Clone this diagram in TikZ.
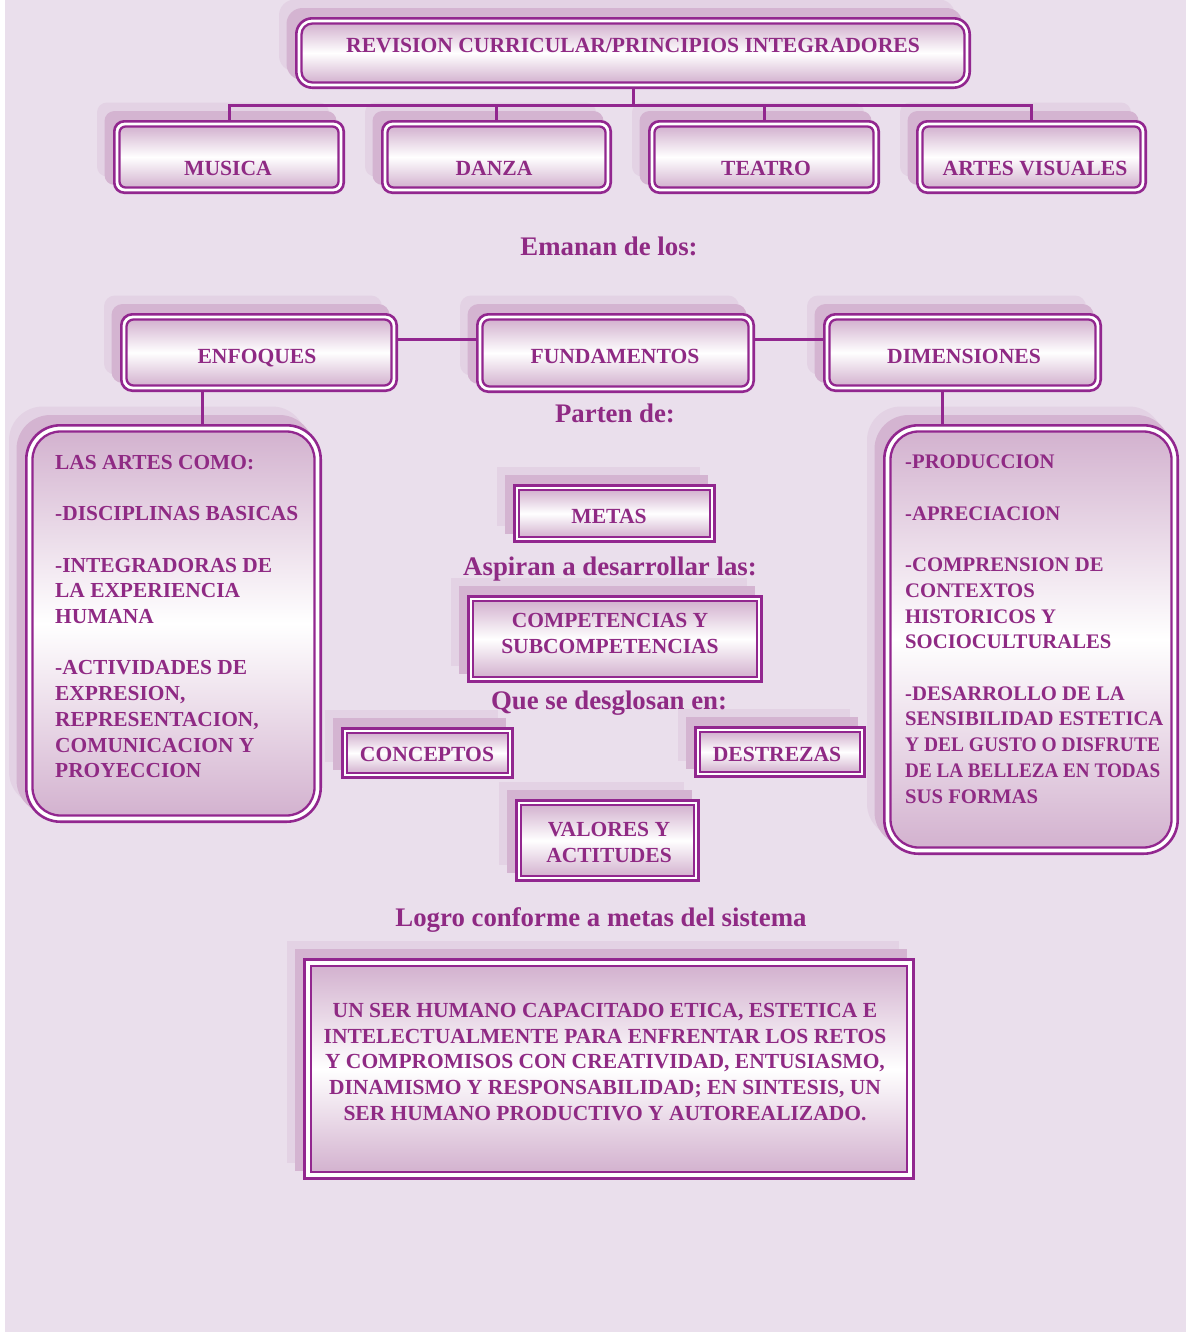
\documentclass[tikz,border=0pt]{standalone}
\usepackage{fontspec}
\usepackage{graphicx}
\setmainfont{Liberation Serif}
\definecolor{bg}{HTML}{EADFEC}
\definecolor{pur}{HTML}{92278F}
\definecolor{txt}{HTML}{8F2A84}
\definecolor{shdL}{HTML}{E3D2E4}
\definecolor{shdD}{HTML}{D4B4D1}
\definecolor{grad}{HTML}{D3B2CF}
\tikzset{
  shadowlight/.style={fill=shdL},
  shadowdark/.style={fill=shdD},
  outerframe/.style={fill=white, draw=pur, line width=2.6pt},
  innerframe/.style={draw=pur, line width=2.3pt, top color=grad, bottom color=grad, middle color=white},
  hit/.style={inner sep=0pt, outer sep=0pt, draw=none},
  conn/.style={draw=pur, line width=3pt},
  lbl/.style={text=txt, font=\fontsize{21.6}{25.7}\selectfont\bfseries, inner sep=0pt, anchor=base},
  mlbl/.style={text=txt, font=\fontsize{21.5}{25.7}\selectfont\bfseries, inner sep=0pt, anchor=north, align=center},
  phrase/.style={text=txt, font=\fontsize{26.8}{30}\selectfont\bfseries, inner sep=0pt, anchor=base},
  blk/.style={text=txt, font=\fontsize{21.4}{25.7}\selectfont\bfseries, inner sep=0pt, anchor=north west, align=left},
}
\newcommand\drawframe[8]{%
  \fill[shadowlight, #6] ({#2-16},{#3-17.5}) rectangle ({#4-16},{#5-17.5});
  \fill[shadowdark, #6] ({#2-8.5},{#3-9}) rectangle ({#4-8.5},{#5-9});
  \path[outerframe, #6] ({#2+1.3},{#3+1.3}) rectangle ({#4-1.3},{#5-1.3});
  \path[innerframe, #7] ({#2+#8},{#3+#8}) rectangle ({#4-#8},{#5-#8});
  \node[hit, minimum width={#4-#2}, minimum height={#5-#3}] (#1) at ({(#2+#4)/2},{(#3+#5)/2}) {};
}
\begin{document}
\begin{tikzpicture}[x=1pt,y=-1pt]
\useasboundingbox (0,0) rectangle (1186,1333);
\fill[white] (0,0) rectangle (1186,1333);
\fill[bg] (5,0) rectangle (1186,1332);

% boxes
\drawframe{title}{295}{17}{971}{89}{rounded corners=16pt}{rounded corners=11pt}{6.5}
\drawframe{musica}{113}{120}{345}{194}{rounded corners=10pt}{rounded corners=6pt}{6.5}
\drawframe{danza}{381}{120}{612}{194}{rounded corners=10pt}{rounded corners=6pt}{6.5}
\drawframe{teatro}{648}{120}{880}{194}{rounded corners=10pt}{rounded corners=6pt}{6.5}
\drawframe{artes}{916}{120}{1147}{194}{rounded corners=10pt}{rounded corners=6pt}{6.5}
\drawframe{enfoques}{120}{313}{398}{392}{rounded corners=11pt}{rounded corners=7pt}{6.5}
\drawframe{fund}{476}{313}{755}{393}{rounded corners=11pt}{rounded corners=7pt}{6.5}
\drawframe{dim}{823}{313}{1102}{392}{rounded corners=11pt}{rounded corners=7pt}{6.5}
\drawframe{lbox}{25}{424}{322}{823}{rounded corners=34pt}{rounded corners=28pt}{7.5}
\drawframe{rbox}{883}{424}{1179}{855}{rounded corners=34pt}{rounded corners=28pt}{7.5}
\drawframe{metas}{513}{484}{716}{543}{sharp corners}{sharp corners}{6}
\drawframe{comp}{467}{595}{763}{683}{sharp corners}{sharp corners}{6}
\drawframe{conceptos}{341}{727}{514}{779}{sharp corners}{sharp corners}{6}
\drawframe{destrezas}{694}{726}{866}{778}{sharp corners}{sharp corners}{6}
\drawframe{valores}{515}{799}{700}{882}{sharp corners}{sharp corners}{6}
\drawframe{logro}{303}{958}{915}{1180}{sharp corners}{sharp corners}{8}

% connectors
\coordinate (busy) at (0,105);
\draw[conn] (title.south) -- (title.south |- busy);
\draw[conn] (musica.north) -- (musica.north |- busy) -- (artes.north |- busy) -- (artes.north);
\draw[conn] (danza.north) -- (danza.north |- busy);
\draw[conn] (teatro.north) -- (teatro.north |- busy);
\coordinate (rowy) at (0,339);
\draw[conn] (enfoques.east |- rowy) -- (fund.west |- rowy);
\draw[conn] (fund.east |- rowy) -- (dim.west |- rowy);
\coordinate (lx) at (202,0);
\coordinate (rx) at (942,0);
\draw[conn] (enfoques.south -| lx) -- (lbox.north -| lx);
\draw[conn] (dim.south -| rx) -- (rbox.north -| rx);

% texts
\node[lbl] (t-title) at (633,52) {REVISION CURRICULAR/PRINCIPIOS INTEGRADORES};
\node[lbl] (t-musica) at (228,175) {MUSICA};
\node[lbl] (t-danza) at (494,175) {DANZA};
\node[lbl] (t-teatro) at (766,175) {TEATRO};
\node[lbl] (t-artes) at (1035,175) {ARTES VISUALES};
\node[phrase] (c-emanan) at (609,255) {Emanan de los:};
\node[lbl] (t-enf) at (257,363) {ENFOQUES};
\node[lbl] (t-fund) at (615,363) {FUNDAMENTOS};
\node[lbl] (t-dim) at (964,363) {DIMENSIONES};
\node[phrase] (c-parten) at (615,422) {Parten de:};
\node[lbl] (t-metas) at (609,523) {METAS};
\node[phrase] (c-aspiran) at (610,575) {Aspiran a desarrollar las:};
\node[mlbl] (t-comp) at (610,613.5) {COMPETENCIAS Y\\SUBCOMPETENCIAS};
\node[phrase] (c-que) at (609,709) {Que se desglosan en:};
\node[lbl] (t-conceptos) at (427,761) {CONCEPTOS};
\node[lbl] (t-destrezas) at (777,761) {DESTREZAS};
\node[mlbl] (t-valores) at (609,822.5) {VALORES Y\\ACTITUDES};
\node[phrase] (c-logro) at (601,926) {Logro conforme a metas del sistema};
\node[mlbl] (t-logro) at (605,1003) {UN SER HUMANO CAPACITADO ETICA, ESTETICA E\\INTELECTUALMENTE PARA ENFRENTAR LOS RETOS\\Y COMPROMISOS CON CREATIVIDAD, ENTUSIASMO,\\DINAMISMO Y RESPONSABILIDAD; EN SINTESIS, UN\\SER HUMANO PRODUCTIVO Y AUTOREALIZADO.};
\node[blk] (t-lbox) at (55,455) {LAS ARTES COMO:\\[25.7pt]-DISCIPLINAS BASICAS\\[25.7pt]-INTEGRADORAS DE\\LA EXPERIENCIA\\HUMANA\\[25.7pt]-ACTIVIDADES DE\\EXPRESION,\\REPRESENTACION,\\COMUNICACION Y\\PROYECCION};
\node[blk, font=\fontsize{20.7}{25.7}\selectfont\bfseries] (t-rbox) at (905,455) {-PRODUCCION\\[25.7pt]-APRECIACION\\[25.7pt]-COMPRENSION DE\\CONTEXTOS\\HISTORICOS Y\\SOCIOCULTURALES\\[25.7pt]-DESARROLLO DE LA\\SENSIBILIDAD ESTETICA\\\scalebox{0.94}[1]{Y DEL GUSTO O DISFRUTE}\\\scalebox{0.925}[1]{DE LA BELLEZA EN TODAS}\\SUS FORMAS};
\end{tikzpicture}
\end{document}
